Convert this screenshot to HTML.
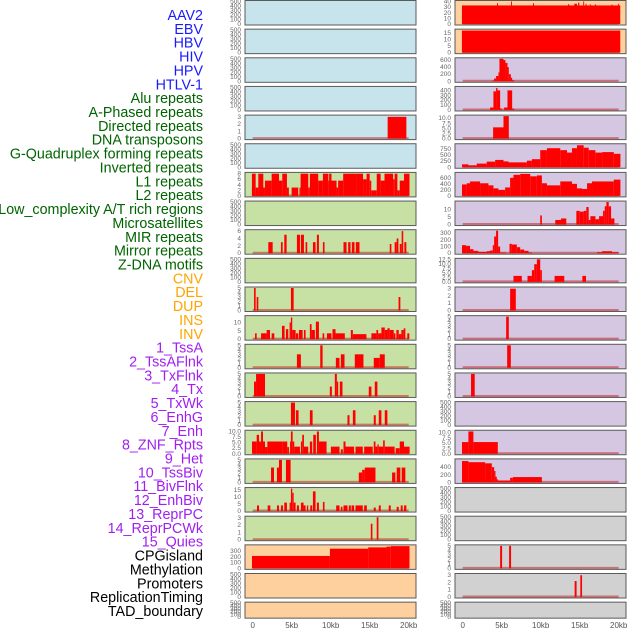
<!DOCTYPE html>
<html><head><meta charset="utf-8"><style>
html,body{margin:0;padding:0;background:#fff;}
svg{display:block;font-family:"Liberation Sans",sans-serif;}
</style></head><body>
<svg id="chart" width="630" height="630" viewBox="0 0 630 630" xmlns="http://www.w3.org/2000/svg"></svg>
<script>
// ---------- data ----------
const trackLabels = ["AAV2","EBV","HBV","HIV","HPV","HTLV-1","Alu repeats","A-Phased repeats","Directed repeats","DNA transposons","G-Quadruplex forming repeats","Inverted repeats","L1 repeats","L2 repeats","Low_complexity A/T rich regions","Microsatellites","MIR repeats","Mirror repeats","Z-DNA motifs","CNV","DEL","DUP","INS","INV","1_TssA","2_TssAFlnk","3_TxFlnk","4_Tx","5_TxWk","6_EnhG","7_Enh","8_ZNF_Rpts","9_Het","10_TssBiv","11_BivFlnk","12_EnhBiv","13_ReprPC","14_ReprPCWk","15_Quies","CPGisland","Methylation","Promoters","ReplicationTiming","TAD_boundary"];
const labelColors = ["#1a1aff","#1a1aff","#1a1aff","#1a1aff","#1a1aff","#1a1aff","#006400","#006400","#006400","#006400","#006400","#006400","#006400","#006400","#006400","#006400","#006400","#006400","#006400","#ffa500","#ffa500","#ffa500","#ffa500","#ffa500","#a020f0","#a020f0","#a020f0","#a020f0","#a020f0","#a020f0","#a020f0","#a020f0","#a020f0","#a020f0","#a020f0","#a020f0","#a020f0","#a020f0","#a020f0","#000","#000","#000","#000","#000"];
const xTicks = [0,5,10,15,20];
const xTickLabels = ["0","5kb","10kb","15kb","20kb"];
const T500 = [0,100,200,300,400,500];

// segments: [startKb, endKb, value]
const L05 = [[17.3,19.7,3]];
const L07 = [[-0.1,0.38,8],[-0.1,0.2,3],[0.38,0.72,3],[0.72,1.36,8],[0.72,1.57,3],[1.57,2.43,5.5],[2.43,3.37,8],[3.37,3.79,5.5],[3.79,4.39,8],[4.39,4.64,3],[4.99,5.84,3],[6.14,7.12,8],[6.0,6.14,3],[7.12,7.33,3],[7.33,8.4,8],[8.4,9.0,5.5],[9.0,9.7,8],[9.7,10.1,5.5],[9.8,10.1,8],[10.1,10.75,5.5],[10.75,10.95,3],[10.95,11.6,5.5],[11.6,13.3,8],[13.3,14.15,8],[14.15,14.6,6],[14.6,15.0,8],[15.0,15.2,5.5],[15.2,15.9,2],[15.9,16.4,8],[16.4,16.9,5.5],[16.9,18.0,8],[18.0,18.2,6],[18.2,18.55,8],[18.55,18.85,2],[18.85,19.4,5.5],[19.4,20.1,8]];
const L09 = [[2.0,2.56,3],[3.62,3.84,3],[4.05,4.35,5],[5.67,6.06,5],[6.18,6.57,5],[6.78,6.99,3],[7.72,8.06,3],[8.23,8.49,5],[9.0,9.21,3],[11.64,12.03,3],[12.24,12.54,3],[12.71,13.05,3],[13.22,13.69,3],[17.57,17.78,2.5],[18.2,18.46,3],[18.46,18.68,4],[18.85,19.1,2.5],[19.1,19.3,6],[19.44,19.7,3]];
const L11 = [[0.17,0.38,5],[0.51,0.72,3],[4.9,5.25,5],[18.7,18.93,3]];
const L12 = [[0.3,0.51,3.5],[1.07,1.79,3.5],[1.79,2.22,5.5],[2.43,2.77,3.5],[3.75,4.09,8],[4.26,4.56,6],[4.73,4.9,10],[4.9,5.07,13],[5.07,5.5,5.5],[5.54,5.84,3.5],[5.93,6.4,5.5],[6.57,6.78,5.5],[7.33,7.55,9],[7.55,7.97,5.5],[8.1,8.49,10.5],[8.96,9.17,3.5],[9.51,10.1,3.5],[10.23,10.62,6],[10.62,11.81,3.5],[12.58,12.84,5.5],[12.84,14.58,3],[15.22,15.86,3.5],[15.86,16.08,5.5],[16.08,16.5,3.5],[16.5,16.93,7],[16.93,17.27,5.5],[17.27,17.57,6.5],[17.57,18.08,5.5],[18.08,18.29,3.5],[18.42,18.72,5.5],[18.72,19.06,3],[19.06,19.36,5.5],[19.36,19.57,6.5],[19.82,20.08,3.5]];
const L13 = [[5.67,6.18,3],[8.66,8.96,5],[10.66,11.13,2.2],[11.3,11.77,3],[13.09,14.2,3],[15.52,16.29,2.2],[16.29,16.93,3]];
const L14 = [[0.17,0.43,3.3],[0.43,1.58,5],[9.89,10.15,2.2],[10.53,10.79,5],[10.79,10.96,3.3],[11.17,11.51,3.3],[14.88,15.22,2.2],[15.65,15.99,3.3]];
const L15 = [[4.9,5.42,5],[5.54,5.88,3.3],[7.33,7.68,3.3],[12.15,12.41,2.2],[12.84,13.18,3.3],[15.52,15.78,2.2],[16.16,16.5,3.3],[16.93,17.27,3.3]];
const L16 = [[-0.09,0.51,5.5],[0.51,0.81,8.5],[0.81,1.07,5.5],[1.07,1.32,10],[1.32,1.58,5.5],[1.58,1.88,3],[1.88,3.84,5.5],[3.84,4.43,5.5],[4.43,4.65,3],[4.78,4.9,5.5],[4.9,5.12,10],[5.12,5.33,5.5],[5.33,6.06,3.2],[6.18,6.35,5.5],[6.35,6.57,8.5],[6.57,7.12,3.2],[7.33,7.63,5.5],[7.76,8.1,8.5],[8.23,8.49,10],[8.49,9.47,5.5],[10.02,11.13,3.2],[11.3,11.56,2],[11.64,11.9,5.5],[11.9,13.0,3.2],[13.18,14.11,3.2],[14.29,15.39,3.2],[15.52,15.74,5.5],[15.74,15.99,3.2],[15.99,16.16,4.2],[16.16,16.72,3.2],[16.72,16.93,6],[16.93,18.2,3.2],[18.33,18.85,2.5],[18.85,19.4,5.5],[19.4,20.12,3.2]];
const L17 = [[2.35,2.73,3.3],[3.11,3.37,3.3],[3.37,3.75,5],[4.26,4.86,5],[13.6,14.03,2.2],[14.03,14.37,2.8],[14.37,15.74,3.3],[17.87,18.29,2.2],[18.46,18.93,3.3],[19.1,19.57,3.3]];
const L18 = [[0.55,0.81,4],[1.92,2.26,4],[3.11,3.37,4],[3.62,3.88,4],[4.05,4.39,6],[4.73,4.9,6],[4.9,5.07,16],[5.07,5.25,13],[5.25,5.5,6],[5.67,5.93,4],[6.18,6.52,6],[6.52,6.78,4],[6.95,7.12,4],[7.38,7.63,4],[7.72,8.06,14],[8.23,8.49,6],[9.0,9.21,6.5],[10.7,11.13,4],[11.3,11.51,3],[11.64,12.15,4],[12.32,12.58,4],[12.67,13.0,4],[13.18,14.11,4],[14.29,14.63,4],[15.52,15.78,2.5],[16.16,16.42,4],[17.44,17.7,4],[18.46,18.72,3],[18.98,19.23,4],[19.4,19.7,4]];
const L19 = [[15.14,15.35,2.2],[15.9,16.12,3.1]];
const L20 = [[-0.09,9.9,217],[9.9,14.8,344],[14.8,17.15,367],[17.15,17.7,380],[17.7,20.1,389]];

const R01 = [[-0.1,20.2,33],[4.4,4.52,37],[6.2,6.32,40],[9.02,9.14,37],[13.5,13.65,35],[14.31,14.65,36],[14.8,14.95,38],[15.45,15.57,40],[15.75,15.87,36],[16.3,16.42,35],[16.95,17.07,35],[19.1,19.2,35],[19.93,20.05,36]];
const R02 = [[-0.1,20.2,17]];
const R03 = [[3.77,4.03,20],[4.03,4.28,80],[4.28,4.58,150],[4.58,4.71,250],[4.71,5.23,636],[5.23,5.48,600],[5.48,5.74,520],[5.74,5.91,400],[5.91,6.17,200],[6.17,6.34,100],[6.34,6.6,30]];
const R04 = [[3.51,3.94,50],[3.94,4.28,380],[4.28,4.46,450],[4.46,4.8,400],[4.8,5.01,30],[5.31,5.74,50],[5.74,6.34,400],[6.34,6.6,30]];
const R05 = [[3.9,5.23,5.5],[5.23,5.91,11]];
const R06 = [[-0.09,0.73,120],[0.73,1.8,80],[1.8,3.08,150],[3.08,4.16,230],[4.16,5.23,300],[5.23,5.87,240],[5.87,8.23,200],[8.23,8.87,270],[8.87,9.94,330],[9.94,10.8,700],[10.8,12.51,780],[12.51,13.37,700],[13.37,14.01,600],[14.01,14.65,780],[14.65,15.51,900],[15.51,16.15,800],[16.15,17.01,700],[17.01,17.87,600],[17.87,19.37,620],[19.37,20.22,550]];
const R07 = [[-0.09,0.51,380],[0.51,0.94,420],[0.94,2.23,480],[2.23,3.3,420],[3.3,3.94,350],[3.94,4.58,250],[4.58,5.44,200],[5.44,6.08,280],[6.08,6.51,600],[6.51,7.37,700],[7.37,8.65,730],[8.65,9.51,650],[9.51,10.15,680],[10.15,10.8,420],[10.8,12.51,350],[12.51,14.01,480],[14.01,14.65,400],[14.65,15.3,250],[15.3,15.94,230],[15.94,16.58,420],[16.58,19.37,480],[19.37,20.22,540]];
const R08 = [[9.94,10.15,6],[11.87,12.6,3],[12.6,13.28,4],[14.57,15.0,9],[15.0,15.51,8.5],[15.51,15.85,9],[15.85,16.15,11.5],[16.15,16.37,3],[16.37,17.01,5.5],[17.01,17.48,3.5],[17.48,17.99,5.5],[17.99,18.21,9],[18.21,18.42,12],[18.42,18.72,14.8],[18.72,19.02,12],[19.02,19.45,4]];
const R09 = [[-0.09,0.43,120],[0.43,0.94,110],[0.94,1.37,60],[1.37,2.01,35],[2.01,3.08,20],[3.08,3.51,30],[3.51,3.86,40],[3.86,4.03,120],[4.03,4.28,250],[4.28,4.54,337],[4.54,4.8,100],[4.8,5.57,10],[6.0,6.3,140],[6.3,6.94,130],[6.94,7.37,90],[7.37,7.88,55],[7.88,8.44,35],[8.44,8.87,10],[17.22,17.87,15],[17.87,19.15,30],[19.15,20.0,15]];
const R10 = [[6.51,7.58,3.3],[8.31,8.87,3.3],[8.87,9.17,6.5],[9.17,9.51,9.8],[9.51,9.94,12.5],[9.94,10.15,6.5],[11.78,13.02,3.3],[15.34,15.81,3.3]];
const R11 = [[6.08,6.81,3]];
const R12 = [[5.57,5.91,5]];
const R13 = [[5.7,6.17,5]];
const R14 = [[1.07,1.54,5]];
const R16 = [[-0.09,0.73,5.5],[0.73,1.37,10.5],[1.37,4.5,5.5]];
const R17 = [[-0.09,0.73,560],[0.73,2.87,530],[2.87,3.73,500],[3.73,4.03,400],[4.03,4.2,300],[4.2,4.37,150],[4.37,4.54,80],[4.54,6.08,50],[6.08,6.43,120],[6.43,10.15,140]];
const R20 = [[4.8,5.05,5],[5.95,6.2,5]];
const R21 = [[14.35,14.6,2.2],[15.08,15.3,3]];

// panel configs (bg, ymax, y tick values, segments)
const BLUE="#c7e4ec", GREEN="#c7e1a5", ORANGE="#fed09e", PURPLE="#d5c6e1", GRAY="#d1d1d1";
const leftPanels = [
 [BLUE,500,T500,null],[BLUE,500,T500,null],[BLUE,500,T500,null],[BLUE,500,T500,null],
 [BLUE,3.1,[0,1,2,3],L05],[BLUE,500,T500,null],
 [GREEN,8.1,[0,2,4,6,8],L07],[GREEN,500,T500,null],[GREEN,6.1,[0,2,4,6],L09],[GREEN,500,T500,null],
 [GREEN,5,[0,1,2,3,4,5],L11],[GREEN,13.5,[0,5,10],L12],[GREEN,5,[0,1,2,3,4,5],L13],[GREEN,5,[0,1,2,3,4,5],L14],
 [GREEN,5,[0,1,2,3,4,5],L15],[GREEN,10.1,[0,2.5,5,7.5,10],L16],[GREEN,5,[0,1,2,3,4,5],L17],[GREEN,16,[0,5,10,15],L18],
 [GREEN,3.1,[0,1,2,3],L19],[ORANGE,394,[0,100,200,300],L20],[ORANGE,500,T500,null],[ORANGE,500,T500,null]
];
const rightPanels = [
 [ORANGE,40,[0,10,20,30,40],R01],[ORANGE,17.3,[0,5,10,15],R02],[PURPLE,636,[0,200,400,600],R03],[PURPLE,460,[0,100,200,300,400],R04],
 [PURPLE,11,[0,2.5,5,7.5,10],R05],[PURPLE,921,[0,250,500,750],R06],[PURPLE,747,[0,200,400,600],R07],[PURPLE,14.8,[0,5,10],R08],
 [PURPLE,337,[0,100,200,300],R09],[PURPLE,12.5,[0,2.5,5,7.5,10,12.5],R10],[PURPLE,3.1,[0,1,2,3],R11],[PURPLE,5,[0,1,2,3,4,5],R12],
 [PURPLE,5,[0,1,2,3,4,5],R13],[PURPLE,5,[0,1,2,3,4,5],R14],[PURPLE,500,T500,null],[PURPLE,10.6,[0,2.5,5,7.5,10],R16],
 [PURPLE,590,[0,200,400],R17],[GRAY,500,T500,null],[GRAY,500,T500,null],[GRAY,5,[0,1,2,3,4,5],R20],
 [GRAY,3.1,[0,1,2,3],R21],[GRAY,500,T500,null]
];

// ---------- drawing ----------
const NS="http://www.w3.org/2000/svg";
const svg=document.getElementById('chart');
function mk(tag,attrs,parent){const e=document.createElementNS(NS,tag);for(const k in attrs)e.setAttribute(k,attrs[k]);(parent||svg).appendChild(e);return e;}

// labels
trackLabels.forEach((t,i)=>{
  const el=mk('text',{x:203,y:15+i*13.86+5,'text-anchor':'end','font-size':'14.3',fill:labelColors[i]});
  el.textContent=t;
  
  
});

const cols=[{x0:245,x1:416,zero:252.7,panels:leftPanels,name:'left'},{x0:455,x1:626,zero:462.7,panels:rightPanels,name:'right'}];
const KB=7.8;
cols.forEach(col=>{
  const xs=kb=>col.zero+kb*KB;
  col.panels.forEach((p,i)=>{
    const [bg,ymax,ticks,data]=p;
    const top=0.5+i*28.65, h=(i===21)?16:24.5, bot=top+h;
    const ys=v=>bot-1-(v/ymax)*(h-2);
    const g=mk('g',{});
    
    
    const r=mk('rect',{x:col.x0,y:top,width:col.x1-col.x0,height:h,fill:bg},g);
    
    
    if(data){
      const bl=mk('line',{x1:xs(0),x2:xs(20),y1:bot-1.5,y2:bot-1.5,stroke:'rgba(190,0,0,0.45)','stroke-width':2},g);
      
      
      data.forEach(s=>{
        const y=ys(Math.min(s[2],ymax));
        const b=mk('rect',{x:xs(s[0]),y:y,width:Math.max(0.8,xs(s[1])-xs(s[0])),height:bot-1-y,fill:'#ff0000'},g);
        
        
      });
    }
    const fr=mk('rect',{x:col.x0,y:top,width:col.x1-col.x0,height:h,fill:'none',stroke:'#5a5a5a','stroke-width':1},g);
    
    
    ticks.forEach(tv=>{
      const t=mk('text',{x:col.x0-4,y:ys(tv)+2,'text-anchor':'end','font-size':'6.5',fill:'#666'},g);
      t.textContent=(ymax<15 && ticks.some(v=>v%1))?tv.toFixed(1):String(tv);
      
      
    });
  });
  xTicks.forEach((kb,j)=>{
    const t=mk('text',{x:xs(kb),y:628,'text-anchor':'middle','font-size':'8',fill:'#555'});
    t.textContent=xTickLabels[j];
    
    
  });
});
</script>
</body></html>
